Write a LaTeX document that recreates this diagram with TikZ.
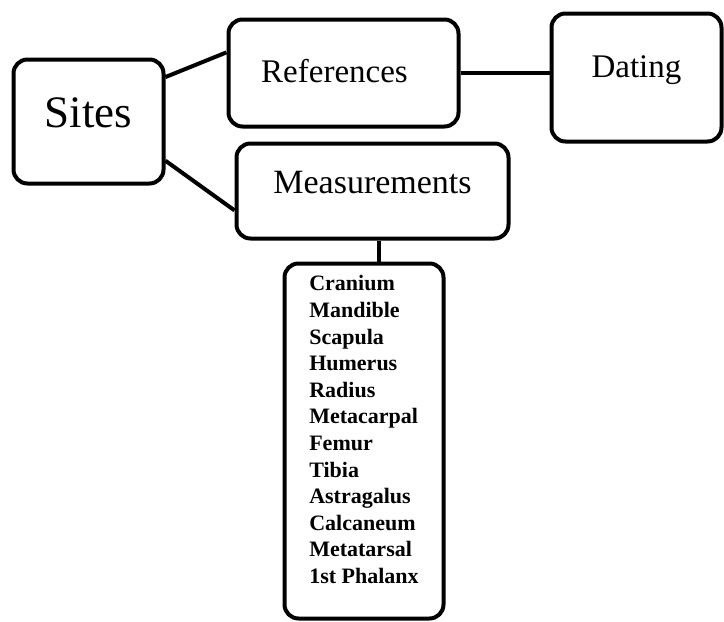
\documentclass[tikz,border=0pt]{standalone}
\usepackage{fontspec}
\setmainfont{Liberation Serif}
\usetikzlibrary{calc}
\tikzset{box/.style = {draw, line width=4pt, rounded corners=14pt, inner sep=0pt}}
\tikzset{link/.style = {line width=4pt}}

\begin{document}
\begin{tikzpicture}[x=1pt, y=-1pt]
\useasboundingbox (0,0) rectangle (724,622);
\node [box, minimum width=150pt, minimum height=124pt, font=\fontsize{45}{50}\selectfont, text height=22pt, text depth=11pt] (sites) at (88.5,121.5) {Sites};
\node [box, minimum width=230pt, minimum height=107pt, font=\fontsize{33}{38}\selectfont, text height=24pt, text depth=6pt] (refs) at (343.5,73) {\hspace*{-18pt}References};
\node [box, minimum width=170pt, minimum height=128pt, font=\fontsize{33}{38}\selectfont, text height=15pt, text depth=15pt] (dating) at (636.5,77.5) {Dating};
\node [box, minimum width=272pt, minimum height=95pt, font=\fontsize{34}{38}\selectfont, text height=16pt, text depth=12pt] (meas) at (372.5,191) {Measurements};
\node [box, minimum width=159pt, minimum height=355pt, align=left, font=\fontsize{22}{26.6}\bfseries\selectfont, text depth=23pt] (bones) at (364,441)
  {Cranium\\Mandible\\Scapula\\Humerus\\Radius\\Metacarpal\\Femur\\Tibia\\Astragalus\\Calcaneum\\Metatarsal\\1st Phalanx};
\draw [link] (sites.30) -- (refs.170);
\draw [link] (sites.333) -- (meas.188);
\draw [link] (refs.east) -- (refs.east -| dating.west);
\draw [link] ([xshift=6pt]meas.south) -- ([xshift=6pt]meas.south |- bones.north);
\end{tikzpicture}
\end{document}
